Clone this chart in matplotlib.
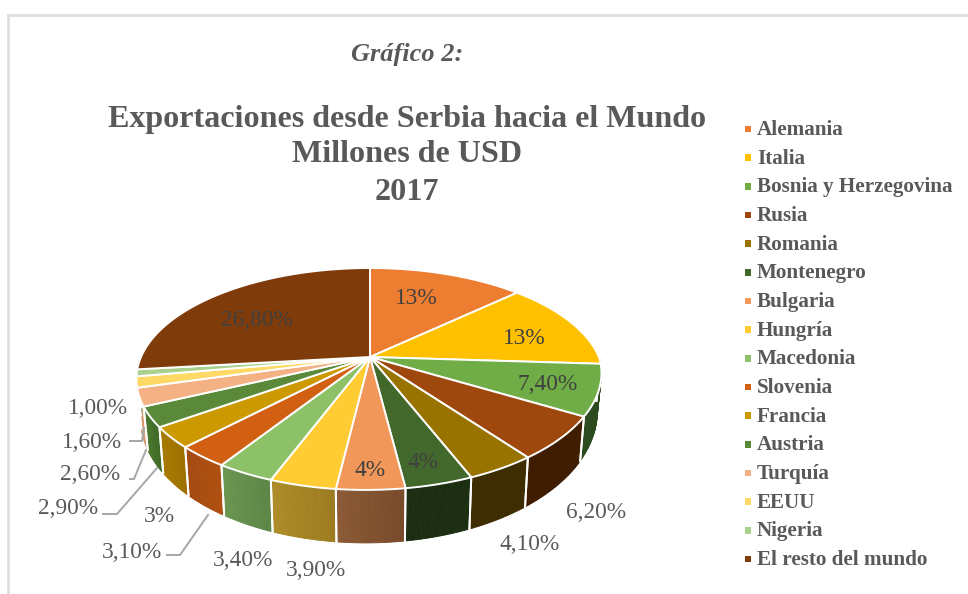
import numpy as np
import matplotlib
matplotlib.use("Agg")
import matplotlib.pyplot as plt
from matplotlib.colors import to_rgb

plt.rcParams['font.family'] = ['Liberation Serif', 'DejaVu Serif']

# data
paises = ["Alemania", "Italia", "Bosnia y Herzegovina", "Rusia", "Romania", "Montenegro",
          "Bulgaria", "Hungría", "Macedonia", "Slovenia", "Francia", "Austria",
          "Turquía", "EEUU", "Nigeria", "El resto del mundo"]
valores = [13, 13, 7.4, 6.2, 4.1, 4, 4, 3.9, 3.4, 3.1, 3, 2.9, 2.6, 1.6, 1.0, 26.8]
etiquetas = ["13%", "13%", "7,40%", "6,20%", "4,10%", "4%", "4%", "3,90%", "3,40%", "3,10%",
             "3%", "2,90%", "2,60%", "1,60%", "1,00%", "26,80%"]

colores = ["#ED7D31", "#FFC000", "#70AD47", "#9E480E", "#997300", "#43682B", "#F1975A", "#FFCD33",
           "#8CC168", "#D26012", "#CC9A00", "#5A8A39", "#F4B183", "#FFD966", "#A9D18E", "#7F3B0A"]
pared_izq = ["#000000", "#000000", "#2B4A1E", "#3F1C00", "#3D2C00", "#1C2E12", "#8C5A36", "#AD8C28",
             "#6A9650", "#A44A10", "#A87C00", "#4F7A30", "#E0A27A", "#C9A84A", "#8AA874", "#5A2A07"]
pared_der = ["#000000", "#000000", "#2B4A1E", "#3F1C00", "#3D2C00", "#1C2E12", "#784A2A", "#9C7B20",
             "#5C8546", "#B0500F", "#9C7000", "#3F6A25", "#D89870", "#C9A84A", "#8AA874", "#5A2A07"]

# label placement in pixels (x, y), same order as paises
pos_etiq = [(416, 299), (524, 338), (548, 385), (596, 513), (530, 545), (423, 463), (370, 470), (316, 571),
            (243, 560), (132, 553), (159, 517), (68, 509), (90, 475), (92, 443), (98, 408), (257, 320)]
dentro = [0, 1, 2, 5, 6, 15]

# leader lines for the small slices
guias = [[(130, 441), (142, 441), (144, 428)],
         [(130, 479), (134, 479), (146, 450)],
         [(103, 514), (117, 514), (157, 468)],
         [(167, 555), (180, 555), (208, 515)]]

cx, cy = 370, 357
R, A, k = 229, 106.6, 0.198
alto = 53


def borde(t):
    # t clockwise from the top of the pie, perspective on the disc
    X, Y = np.sin(t), -np.cos(t)
    d = 1 - k * Y
    # the front of the pie leans a bit to the left in the picture
    sesgo = 4.5 * np.maximum(Y, 0) * (1 + X) ** 1.5
    return cx + R * X / d - sesgo, cy + A * Y / d


def fondo(t):
    x, y = borde(t)
    Y = -np.cos(t)
    return cx + (x - cx) * 0.982, y + alto * (0.68 + 0.32 * Y)


fig = plt.figure(figsize=(9.68, 5.94), dpi=100, facecolor="white")
ax = fig.add_axes([0, 0, 1, 1])
ax.set_xlim(0, 968)
ax.set_ylim(594, 0)
ax.axis("off")

# frame of the pasted chart
ax.plot([8, 8, 968], [594, 15, 15], color="#DEDEDE", lw=2, solid_joinstyle="miter")

cortes = np.concatenate([[0], np.cumsum(valores)]) / np.sum(valores) * 2 * np.pi

# side wall, only the front half of the pie shows it
for i in range(len(valores)):
    a, b = max(cortes[i], np.pi / 2), min(cortes[i + 1], 3 * np.pi / 2)
    if b <= a:
        continue
    c1, c2 = np.array(to_rgb(pared_der[i])), np.array(to_rgb(pared_izq[i]))
    ts = np.linspace(a, b, 25)
    for j in range(24):
        f = (j + 0.5) / 24
        col = c1 * (1 - f) + c2 * f
        x1, y1 = borde(ts[j])
        x2, y2 = borde(ts[j + 1])
        x3, y3 = fondo(ts[j + 1])
        x4, y4 = fondo(ts[j])
        ax.fill([x1, x2, x3, x4], [y1, y2, y3, y4], color=col, lw=0.6, zorder=2)
    for t in (a, b):
        x1, y1 = borde(t)
        x2, y2 = fondo(t)
        ax.plot([x1, x2], [y1, y2], color="white", lw=1.4, zorder=3)

# top of the pie
for i in range(len(valores)):
    ts = np.linspace(cortes[i], cortes[i + 1], 80)
    xs, ys = borde(ts)
    ax.fill(np.r_[cx, xs], np.r_[cy, ys], facecolor=colores[i], edgecolor="white", lw=1.4,
            joinstyle="round", zorder=4)

for g in guias:
    ax.plot([p[0] for p in g], [p[1] for p in g], color="#A6A6A6", lw=1.4, zorder=5)

for i, txt in enumerate(etiquetas):
    c = "#404040" if i in dentro else "#595959"
    ax.text(pos_etiq[i][0], pos_etiq[i][1], txt, fontsize=16.8, color=c, ha="center", va="center", zorder=6)

# titles
ax.text(407, 55, "Gráfico 2:", fontsize=19, style="italic", fontweight="bold", color="#595959",
        ha="center", va="center")
for txt, y in zip(["Exportaciones desde Serbia hacia el Mundo", "Millones de USD", "2017"], [119, 155, 192]):
    ax.text(407, y, txt, fontsize=23.1, fontweight="bold", color="#595959", ha="center", va="center")

# legend
ley_y = np.linspace(129, 559, len(paises))
ax.scatter([748] * len(paises), ley_y, marker="s", s=22, c=colores, linewidths=0)
for nombre, y in zip(paises, ley_y):
    ax.text(757, y + 1, nombre, fontsize=15.2, fontweight="bold", color="#595959", ha="left", va="center")

fig.savefig("out.png", dpi=100)
